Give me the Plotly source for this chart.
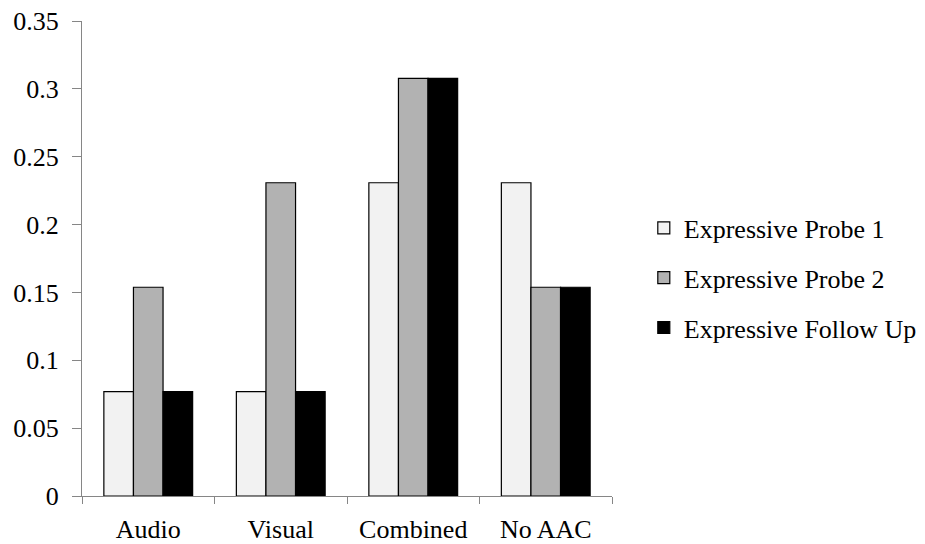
import plotly.graph_objects as go

categories = ["Audio", "Visual", "Combined", "No AAC"]
probe1 = [0.0769, 0.0769, 0.2308, 0.2308]
probe2 = [0.1538, 0.2308, 0.3077, 0.1538]
follow_up = [0.0769, 0.0769, 0.3077, 0.1538]
series_names = ["Expressive Probe 1", "Expressive Probe 2", "Expressive Follow Up"]
series_colors = ["#f2f2f2", "#b2b2b2", "#000000"]
y_ticks = [0, 0.05, 0.1, 0.15, 0.2, 0.25, 0.3, 0.35]
y_tick_text = ["0", "0.05", "0.1", "0.15", "0.2", "0.25", "0.3", "0.35"]

font = "Liberation Serif, Times New Roman, serif"
fig = go.Figure()
for name, vals, col in zip(series_names, [probe1, probe2, follow_up], series_colors):
    fig.add_trace(go.Bar(
        x=categories, y=vals, name=name, legendgroup=name,
        marker=dict(color=col, line=dict(color="#000000", width=1.2)),
    ))

# page body has an 8px default margin, so the figure is 8px smaller and shifted
fig.update_layout(
    width=917, height=536,
    margin=dict(l=74, r=313, t=13, b=48, autoexpand=False),
    paper_bgcolor="white", plot_bgcolor="white",
    barmode="group", bargap=0.33, bargroupgap=0,
    font=dict(family=font, size=26, color="#000000"),
    showlegend=True,
    legend=dict(x=1.06, xanchor="left", y=0.459, yanchor="middle",
                font=dict(family=font, size=26), tracegroupgap=13,
                traceorder="grouped", itemwidth=30),
    xaxis=dict(showline=True, linecolor="#868686", linewidth=1,
               ticks="outside", tickson="boundaries", ticklen=7,
               tickcolor="#868686", showgrid=False, ticklabelstandoff=10,
               automargin=False, ticklabeloverflow="allow"),
    yaxis=dict(range=[0, 0.35], tickvals=y_ticks, ticktext=y_tick_text,
               showline=True, linecolor="#868686", linewidth=1,
               ticks="outside", ticklen=9, tickcolor="#868686",
               showgrid=False, zeroline=False, ticklabelstandoff=8,
               automargin=False, ticklabeloverflow="allow"),
)
fig.write_html("out.html")
